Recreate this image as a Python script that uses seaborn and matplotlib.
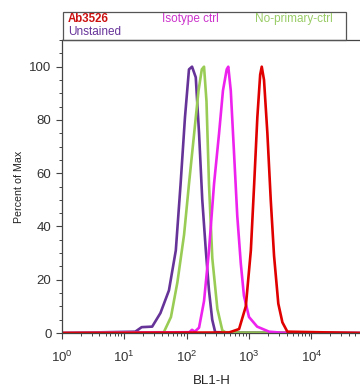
import pandas as pd
import seaborn as sns
import matplotlib
matplotlib.use("Agg")
import matplotlib.pyplot as plt
from matplotlib.patches import Rectangle
from matplotlib.ticker import LogLocator, MultipleLocator

sns.set_style("ticks")
plt.rcParams['font.family'] = ['Liberation Sans', 'DejaVu Sans']
plt.rcParams['mathtext.fontset'] = 'custom'
plt.rcParams['mathtext.rm'] = 'Liberation Sans'
plt.rcParams['mathtext.it'] = 'Liberation Sans'

# Histogram traces (BL1-H value, percent of max)
unstained_x = [1, 15, 19, 28, 38, 52, 67, 80, 94, 109, 122, 140, 158, 178, 203, 228, 257, 287, 60000]
unstained_y = [0, 0.5, 2.2, 2.4, 7.5, 16, 31, 56, 81, 99, 100, 96, 75, 50, 31, 16, 5, 0.3, 0]

noprimary_x = [1, 43, 56, 71, 91, 109, 132, 155, 175, 190, 208, 228, 258, 311, 373, 423, 60000]
noprimary_y = [0, 0.3, 6, 19, 37, 56, 75, 91, 99, 100, 87, 56, 28, 9, 1, 0.2, 0]

isotype_x = [1, 110, 122, 135, 158, 190, 228, 275, 331, 382, 439, 465, 510, 574, 648, 739, 829, 1000, 1350, 2100, 3400, 60000]
isotype_y = [0, 0.3, 1.2, 0.5, 2, 12, 31, 56, 75, 91, 99, 100, 91, 68, 44, 26, 14, 6, 2.4, 0.5, 0.1, 0]

ab_x = [1, 479, 693, 888, 1070, 1210, 1360, 1510, 1600, 1740, 1970, 2230, 2520, 2950, 3430, 4120, 60000]
ab_y = [0, 0.2, 1.5, 10, 31, 56, 81, 97, 100, 95, 75, 50, 29, 11, 4, 0.5, 0]

series_names = ["Unstained", "No-primary-ctrl", "Isotype ctrl", "Ab3526"]
line_colors = {"Unstained": "#663399", "No-primary-ctrl": "#99cc55",
               "Isotype ctrl": "#ee22ee", "Ab3526": "#e00000"}

frames = []
for name, xs, ys in zip(series_names,
                        [unstained_x, noprimary_x, isotype_x, ab_x],
                        [unstained_y, noprimary_y, isotype_y, ab_y]):
    frames.append(pd.DataFrame({"BL1-H": xs, "pct": ys, "sample": name}))
df = pd.concat(frames, ignore_index=True)

fig = plt.figure(figsize=(3.6, 3.87), dpi=100)
ax = fig.add_axes([0.172, 0.1395, 0.835, 0.757])

sns.lineplot(data=df, x="BL1-H", y="pct", hue="sample", hue_order=series_names,
             palette=line_colors, estimator=None, linewidth=1.9, legend=False, ax=ax)

ax.set_xscale("log")
ax.set_xlim(1, 10 ** 4.82)
ax.set_ylim(0, 110)
ax.yaxis.set_major_locator(MultipleLocator(20))
ax.yaxis.set_minor_locator(MultipleLocator(5))
ax.xaxis.set_major_locator(LogLocator(base=10, numticks=10))
ax.xaxis.set_minor_locator(LogLocator(base=10, subs=range(2, 10), numticks=20))

ax.tick_params(axis="both", which="major", length=4, width=0.8, colors="#444444",
               labelsize=9.5, labelcolor="#333333", direction="out")
ax.tick_params(axis="both", which="minor", length=2.5, width=0.7, colors="#444444", direction="out")
ax.tick_params(axis="x", which="major", pad=8)

for side in ["left", "bottom", "top"]:
    ax.spines[side].set_color("#444444")
    ax.spines[side].set_linewidth(0.9)
ax.spines["right"].set_visible(False)

ax.set_xlabel("BL1-H", fontsize=9.5, color="#222222", labelpad=7)
ax.set_ylabel("Percent of Max", fontsize=7.7, color="#222222", labelpad=4)

# legend box above the plot
fig.patches.append(Rectangle((0.175, 0.897), 0.786, 0.072, transform=fig.transFigure,
                             fill=False, edgecolor="#555555", linewidth=0.9))
fig.text(0.189, 0.952, "Ab3526", color="#cc1111", fontsize=8.3, fontweight="bold", va="center")
fig.text(0.45, 0.952, "Isotype ctrl", color="#cc33cc", fontsize=8.5, va="center")
fig.text(0.708, 0.952, "No-primary-ctrl", color="#99cc66", fontsize=8.5, va="center")
fig.text(0.189, 0.917, "Unstained", color="#663399", fontsize=8.5, va="center")

fig.savefig("out.png", dpi=100)
